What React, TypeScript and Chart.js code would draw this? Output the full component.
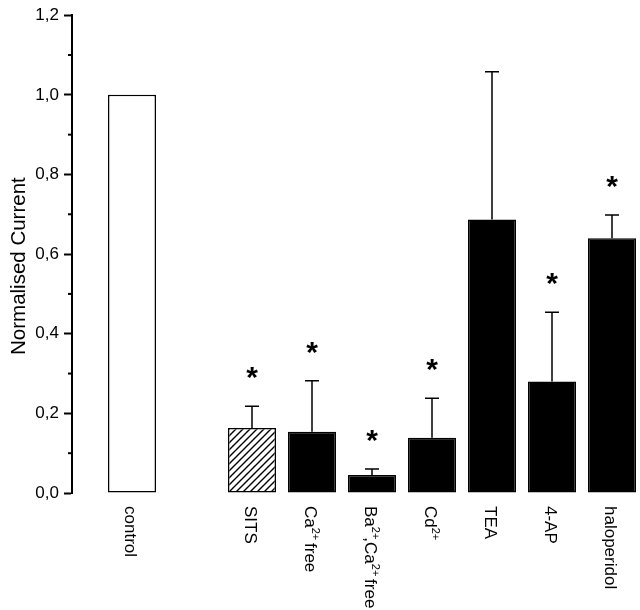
import React, { useEffect, useRef } from "react";
import { Chart, registerables } from "chart.js";

Chart.register(...registerables);

// ---------- data ----------
const categories = ["control", "SITS", "Ca²⁺ free", "Ba²⁺,Ca²⁺ free", "Cd²⁺", "TEA", "4-AP", "haloperidol"];
const slots = [0, 2, 3, 4, 5, 6, 7, 8]; // category slot index (one empty slot after control)
const means = [1.0, 0.163, 0.154, 0.045, 0.139, 0.687, 0.28, 0.64];
const upperErrors = [0, 0.055, 0.128, 0.015, 0.099, 0.371, 0.174, 0.058];
const significant = [false, true, true, true, true, false, true, true];
const fillKinds = ["open", "hatched", "solid", "solid", "solid", "solid", "solid", "solid"];
const yTickValues = [0, 0.2, 0.4, 0.6, 0.8, 1.0, 1.2];
const yTickLabels = ["0,0", "0,2", "0,4", "0,6", "0,8", "1,0", "1,2"];
const yMinorTicks = [0.1, 0.3, 0.5, 0.7, 0.9, 1.1];
const yTitle = "Normalised Current";

const FONT = "'Liberation Sans', Arial, Helvetica, sans-serif";

function makeHatch(): CanvasPattern | string {
  const c = document.createElement("canvas");
  c.width = 7;
  c.height = 7;
  const g = c.getContext("2d");
  if (!g) return "#fff";
  g.fillStyle = "#fff";
  g.fillRect(0, 0, 7, 7);
  g.strokeStyle = "#000";
  g.lineWidth = 1.4;
  g.beginPath();
  g.moveTo(-1, 8); g.lineTo(8, -1);
  g.moveTo(-1, 1); g.lineTo(1, -1);
  g.moveTo(6, 8); g.lineTo(8, 6);
  g.stroke();
  const p = g.createPattern(c, "repeat");
  return p || "#fff";
}

const SUP: Record<string, string> = { "²": "2", "⁺": "+" };

function drawRichRotated(ctx: CanvasRenderingContext2D, text: string, x: number, y: number) {
  ctx.save();
  ctx.translate(x, y);
  ctx.rotate(Math.PI / 2);
  ctx.textAlign = "left";
  ctx.textBaseline = "alphabetic";
  ctx.fillStyle = "#000";
  let cx = 0;
  let buf = "";
  let sup = "";
  const flushNormal = () => {
    if (!buf) return;
    ctx.font = `17px ${FONT}`;
    ctx.fillText(buf, cx, 7);
    cx += ctx.measureText(buf).width;
    buf = "";
  };
  const flushSup = () => {
    if (!sup) return;
    ctx.font = `11px ${FONT}`;
    ctx.fillText(sup, cx, 0);
    cx += ctx.measureText(sup).width - 2;
    sup = "";
  };
  for (const ch of text) {
    if (SUP[ch]) {
      flushNormal();
      sup += SUP[ch];
    } else {
      flushSup();
      buf += ch;
    }
  }
  flushNormal();
  flushSup();
  ctx.restore();
}

const overlayPlugin = {
  id: "overlay",
  afterDatasetsDraw(chart: any) {
    const ctx: CanvasRenderingContext2D = chart.ctx;
    const xs = chart.scales.x;
    const ys = chart.scales.y;
    ctx.save();
    // error bars (upper only)
    ctx.strokeStyle = "#000";
    ctx.lineWidth = 1.5;
    means.forEach((m, i) => {
      if (!upperErrors[i]) return;
      const px = xs.getPixelForValue(slots[i]);
      const y0 = ys.getPixelForValue(m);
      const y1 = ys.getPixelForValue(m + upperErrors[i]);
      ctx.beginPath();
      ctx.moveTo(px, y0);
      ctx.lineTo(px, y1);
      ctx.moveTo(px - 7, y1);
      ctx.lineTo(px + 7, y1);
      ctx.stroke();
    });
    // asterisks
    ctx.font = `bold 30px ${FONT}`;
    ctx.textAlign = "center";
    ctx.textBaseline = "alphabetic";
    ctx.fillStyle = "#000";
    const mt = ctx.measureText("*");
    const mid = (mt.actualBoundingBoxAscent - mt.actualBoundingBoxDescent) / 2;
    means.forEach((m, i) => {
      if (!significant[i]) return;
      const px = xs.getPixelForValue(slots[i]);
      const y1 = ys.getPixelForValue(m + upperErrors[i]);
      ctx.fillText("*", px, y1 - 33 + mid);
    });
    // minor y ticks
    ctx.lineWidth = 2;
    const left = chart.chartArea.left;
    yMinorTicks.forEach((v) => {
      const py = ys.getPixelForValue(v);
      ctx.beginPath();
      ctx.moveTo(left - 4, py);
      ctx.lineTo(left, py);
      ctx.stroke();
    });
    // y title (rotated counter-clockwise)
    ctx.save();
    ctx.translate(25, (chart.chartArea.top + chart.chartArea.bottom) / 2 + 12);
    ctx.rotate(-Math.PI / 2);
    ctx.font = `20.5px ${FONT}`;
    ctx.textAlign = "center";
    ctx.textBaseline = "alphabetic";
    ctx.fillText(yTitle, 0, 0);
    ctx.restore();
    // category labels (rotated clockwise)
    const top = chart.chartArea.bottom + 13;
    categories.forEach((c, i) => {
      const px = xs.getPixelForValue(slots[i]);
      drawRichRotated(ctx, c, px, top);
    });
    ctx.restore();
  },
};

export default function App() {
  const ref = useRef<HTMLCanvasElement>(null);
  useEffect(() => {
    if (!ref.current) return;
    const hatch = makeHatch();
    const colors = fillKinds.map((k) => (k === "open" ? "#ffffff" : k === "hatched" ? hatch : "#000000"));
    const chart = new Chart(ref.current, {
      type: "bar",
      data: {
        datasets: [
          {
            data: means.map((m, i) => ({ x: slots[i], y: m })),
            backgroundColor: colors as any,
            borderColor: "#000",
            borderWidth: 1.5,
            borderSkipped: false,
            barPercentage: 0.8,
            categoryPercentage: 1,
          },
        ],
      },
      options: {
        animation: false,
        responsive: false,
        events: [],
        layout: { padding: { left: 0, top: 10, right: 4, bottom: 117 } },
        plugins: { legend: { display: false }, tooltip: { enabled: false } },
        scales: {
          x: {
            type: "linear",
            display: false,
            offset: false,
            min: -1,
            max: 8.4,
            afterBuildTicks: (s: any) => {
              s.ticks = slots.map((v) => ({ value: v }));
            },
          },
          y: {
            min: 0,
            max: 1.2,
            afterBuildTicks: (s: any) => {
              s.ticks = yTickValues.map((v) => ({ value: v }));
            },
            afterFit: (s: any) => {
              s.width = 72;
            },
            ticks: {
              color: "#000",
              padding: 5,
              font: { family: FONT, size: 17 },
              callback: (v: any) => {
                const idx = yTickValues.findIndex((t) => Math.abs(t - Number(v)) < 1e-6);
                return idx >= 0 ? yTickLabels[idx] : "";
              },
            },
            grid: {
              display: true,
              drawOnChartArea: false,
              drawTicks: true,
              tickLength: 8,
              tickColor: "#000",
              tickWidth: 2,
            },
            border: { display: true, color: "#000", width: 2 },
            title: { display: false, text: yTitle },
          },
        },
      },
      plugins: [overlayPlugin],
    });
    return () => chart.destroy();
  }, []);
  return (
    <div style={{ position: "absolute", left: 0, top: 0, width: 640, height: 610, background: "#fff" }}>
      <canvas ref={ref} width={640} height={610} style={{ display: "block" }} />
    </div>
  );
}
